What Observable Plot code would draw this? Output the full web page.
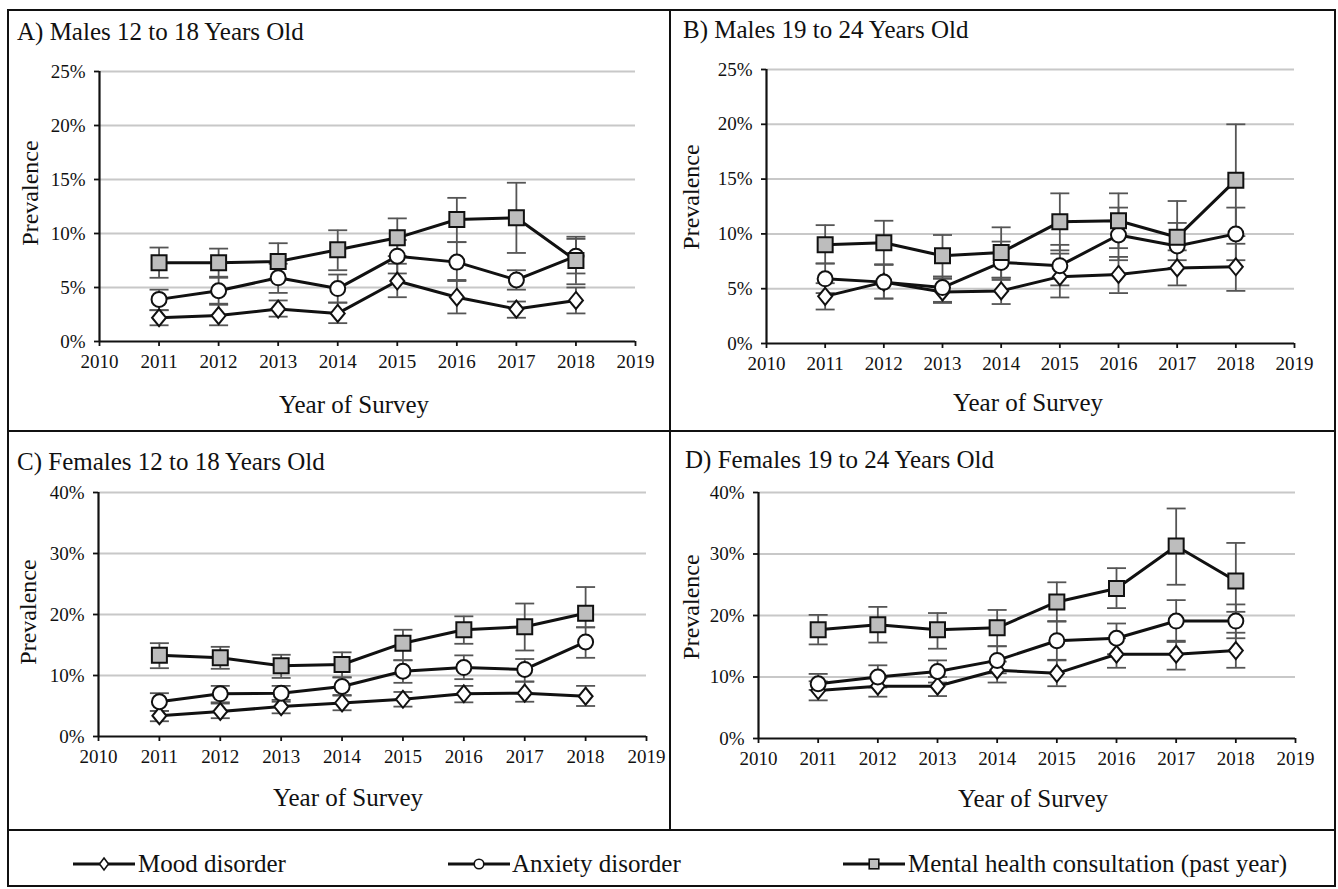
<!DOCTYPE html>
<html><head><meta charset="utf-8">
<script src="https://cdn.jsdelivr.net/npm/d3@7"></script>
<script src="https://cdn.jsdelivr.net/npm/@observablehq/plot@0.6"></script>
<style>
body{margin:0;background:#fff;}
#root{position:relative;width:1338px;height:889px;font-family:'Liberation Serif','DejaVu Serif','Noto Serif',serif;color:#111;overflow:hidden;background:#fff;}
#root svg text{font-family:'Liberation Serif','DejaVu Serif','Noto Serif',serif;}
.abs{position:absolute;}
.title{font-size:25px;white-space:nowrap;transform:translateY(-50%);}
.ctr{transform:translate(-50%,-50%);white-space:nowrap;}
.ylab{font-size:24px;white-space:nowrap;transform:translate(-50%,-50%) rotate(-90deg);}
.xlab{font-size:25px;}
.leg{font-size:25px;white-space:nowrap;transform:translateY(-50%);}
.line{background:#111;}
</style></head><body><div id="root"></div>
<script>
// ---------- data ----------
const years = [2011, 2012, 2013, 2014, 2015, 2016, 2017, 2018];
const xTicks = [2010, 2011, 2012, 2013, 2014, 2015, 2016, 2017, 2018, 2019];
const seriesNames = ["Mood disorder", "Anxiety disorder", "Mental health consultation (past year)"];
const panelTitles = ["A) Males 12 to 18 Years Old", "B) Males 19 to 24 Years Old", "C) Females 12 to 18 Years Old", "D) Females 19 to 24 Years Old"];
const yTicksMales = [0, 5, 10, 15, 20, 25];
const yTicksFemales = [0, 10, 20, 30, 40];

// Panel A
const moodA    = [2.2, 2.4, 3.0, 2.6, 5.6, 4.1, 3.0, 3.8];
const moodA_lo = [1.5, 1.5, 2.3, 1.7, 4.1, 2.6, 2.2, 2.6];
const moodA_hi = [2.9, 3.4, 3.8, 3.6, 7.2, 5.6, 3.7, 5.0];
const anxA     = [3.9, 4.7, 5.9, 4.9, 7.9, 7.35, 5.7, 7.9];
const anxA_lo  = [2.9, 3.5, 4.5, 3.6, 6.3, 5.7, 4.8, 6.3];
const anxA_hi  = [4.8, 6.0, 7.2, 6.2, 9.4, 9.2, 6.6, 9.5];
const mentA    = [7.3, 7.3, 7.4, 8.5, 9.6, 11.3, 11.45, 7.5];
const mentA_lo = [5.9, 5.9, 5.8, 6.6, 7.9, 9.2, 8.2, 5.3];
const mentA_hi = [8.7, 8.6, 9.1, 10.3, 11.4, 13.3, 14.7, 9.7];
// Panel B
const moodB    = [4.3, 5.6, 4.7, 4.8, 6.1, 6.3, 6.9, 7.0];
const moodB_lo = [3.1, 4.1, 3.7, 3.6, 4.2, 4.6, 5.3, 4.8];
const moodB_hi = [5.5, 7.2, 5.9, 6.0, 8.2, 7.9, 8.5, 9.1];
const anxB     = [5.9, 5.6, 5.1, 7.4, 7.1, 9.9, 8.9, 10.0];
const anxB_lo  = [4.6, 4.1, 3.8, 5.8, 5.3, 7.6, 6.9, 7.6];
const anxB_hi  = [7.3, 7.2, 6.1, 9.3, 9.0, 12.4, 11.0, 12.4];
const mentB    = [9.0, 9.2, 8.0, 8.3, 11.1, 11.2, 9.7, 14.9];
const mentB_lo = [7.3, 7.2, 6.1, 6.0, 8.5, 8.7, 7.6, 9.8];
const mentB_hi = [10.8, 11.2, 9.9, 10.6, 13.7, 13.7, 13.0, 20.0];
// Panel C
const moodC    = [3.4, 4.1, 4.9, 5.5, 6.1, 7.0, 7.1, 6.6];
const moodC_lo = [2.5, 3.0, 3.8, 4.3, 4.9, 5.6, 5.7, 5.0];
const moodC_hi = [4.2, 5.4, 6.0, 6.8, 7.3, 8.3, 9.0, 8.3];
const anxC     = [5.7, 7.0, 7.1, 8.2, 10.7, 11.3, 11.0, 15.5];
const anxC_lo  = [4.2, 5.6, 5.7, 6.7, 8.8, 9.4, 9.0, 12.9];
const anxC_hi  = [7.1, 8.3, 8.3, 9.7, 12.5, 13.3, 12.7, 17.9];
const mentC    = [13.3, 12.9, 11.6, 11.8, 15.3, 17.5, 18.0, 20.2];
const mentC_lo = [11.2, 11.1, 9.6, 9.7, 12.5, 15.2, 14.1, 17.9];
const mentC_hi = [15.3, 14.7, 13.4, 13.8, 17.5, 19.7, 21.8, 24.5];
// Panel D
const moodD    = [7.8, 8.5, 8.5, 11.1, 10.6, 13.7, 13.7, 14.3];
const moodD_lo = [6.2, 6.8, 6.9, 9.1, 8.5, 11.5, 11.2, 11.5];
const moodD_hi = [9.3, 9.8, 10.0, 12.5, 12.8, 16.3, 15.7, 17.2];
const anxD     = [8.9, 10.0, 10.9, 12.7, 15.9, 16.3, 19.1, 19.1];
const anxD_lo  = [7.9, 8.3, 9.1, 10.6, 12.7, 13.7, 15.9, 16.3];
const anxD_hi  = [10.5, 11.9, 12.7, 15.0, 19.1, 18.7, 22.5, 21.8];
const mentD    = [17.7, 18.5, 17.7, 18.0, 22.2, 24.4, 31.3, 25.6];
const mentD_lo = [15.3, 15.6, 14.6, 15.0, 19.0, 21.2, 25.0, 20.6];
const mentD_hi = [20.1, 21.4, 20.4, 20.9, 25.4, 27.7, 37.4, 31.8];

// ---------- symbols ----------
const capSym = {draw(c) { c.moveTo(-9.5, 0); c.lineTo(9.5, 0); }};
const diamondSym = {draw(c) { c.moveTo(0, -8.5); c.lineTo(7, 0); c.lineTo(0, 8.5); c.lineTo(-7, 0); c.closePath(); }};
const squareSym = {draw(c) { c.rect(-7.5, -7.5, 15, 15); }};

const FONT = "'Liberation Serif', 'DejaVu Serif', 'Noto Serif', serif";

function rowsFor(sets) {
  const rows = [];
  sets.forEach(([v, lo, hi], s) => {
    years.forEach((year, i) => rows.push({year, series: seriesNames[s], s, value: v[i], lo: lo[i], hi: hi[i]}));
  });
  return rows;
}

function panel(cfg) {
  const rows = rowsFor(cfg.sets);
  return Plot.plot({
    width: cfg.w, height: cfg.h,
    marginLeft: cfg.ml, marginRight: cfg.mr, marginTop: cfg.mt, marginBottom: cfg.mb,
    x: {domain: [2010, 2019]},
    y: {domain: [0, cfg.yTicks[cfg.yTicks.length - 1]]},
    style: {fontFamily: FONT, fontSize: "19px", color: "#111", background: "transparent", overflow: "visible"},
    marks: [
      Plot.ruleY(cfg.yTicks.filter(t => t > 0), {stroke: "#c8c8c8", strokeWidth: 2}),
      Plot.axisX({ticks: xTicks, tickFormat: d => String(d), tickSize: 5, tickPadding: 8, label: null, stroke: "#111", strokeWidth: 1.8, fontFamily: FONT}),
      Plot.axisY({ticks: cfg.yTicks, tickFormat: d => d + "%", tickSize: 5, tickPadding: 9, label: null, stroke: "#111", strokeWidth: 1.8, fontFamily: FONT}),
      Plot.ruleY([0], {stroke: "#111", strokeWidth: 2.2}),
      Plot.ruleX([2010], {stroke: "#111", strokeWidth: 2.2}),
      Plot.ruleX(rows, {x: "year", y1: "lo", y2: "hi", stroke: "#555", strokeWidth: 1.8}),
      Plot.dot(rows, {x: "year", y: "hi", symbol: capSym, fill: "none", stroke: "#555", strokeWidth: 1.8}),
      Plot.dot(rows, {x: "year", y: "lo", symbol: capSym, fill: "none", stroke: "#555", strokeWidth: 1.8}),
      Plot.line(rows, {x: "year", y: "value", z: "series", stroke: "#111", strokeWidth: 3}),
      Plot.dot(rows.filter(d => d.s === 0), {x: "year", y: "value", symbol: diamondSym, fill: "white", stroke: "#111", strokeWidth: 2}),
      Plot.dot(rows.filter(d => d.s === 1), {x: "year", y: "value", symbol: "circle", r: 7.5, fill: "white", stroke: "#111", strokeWidth: 2}),
      Plot.dot(rows.filter(d => d.s === 2), {x: "year", y: "value", symbol: squareSym, fill: "#bdbdbd", stroke: "#111", strokeWidth: 2})
    ]
  });
}

const root = document.getElementById("root");
function addDiv(cls, style, text) {
  const d = document.createElement("div");
  d.className = "abs " + (cls || "");
  d.setAttribute("style", style);
  if (text != null) d.textContent = text;
  root.appendChild(d);
  return d;
}

const panels = [
  {left: 8, top: 10, w: 660, h: 420, ml: 91, mr: 33, mt: 61, mb: 89, yTicks: yTicksMales,
   sets: [[moodA, moodA_lo, moodA_hi], [anxA, anxA_lo, anxA_hi], [mentA, mentA_lo, mentA_hi]],
   title: [17, 32], ylab: [30, 193], xlab: [354, 405]},
  {left: 672, top: 10, w: 662, h: 420, ml: 94, mr: 40, mt: 59, mb: 87, yTicks: yTicksMales,
   sets: [[moodB, moodB_lo, moodB_hi], [anxB, anxB_lo, anxB_hi], [mentB, mentB_lo, mentB_hi]],
   title: [683, 30], ylab: [691, 197], xlab: [1028, 403]},
  {left: 8, top: 433, w: 660, h: 396, ml: 90, mr: 22, mt: 59, mb: 93, yTicks: yTicksFemales,
   sets: [[moodC, moodC_lo, moodC_hi], [anxC, anxC_lo, anxC_hi], [mentC, mentC_lo, mentC_hi]],
   title: [17, 462], ylab: [28, 612], xlab: [348, 798]},
  {left: 672, top: 433, w: 662, h: 396, ml: 86, mr: 39, mt: 59, mb: 91, yTicks: yTicksFemales,
   sets: [[moodD, moodD_lo, moodD_hi], [anxD, anxD_lo, anxD_hi], [mentD, mentD_lo, mentD_hi]],
   title: [685, 460], ylab: [691, 607], xlab: [1033, 799]}
];

panels.forEach((p, i) => {
  const holder = addDiv("", `left:${p.left}px;top:${p.top}px;width:${p.w}px;height:${p.h}px;`);
  holder.appendChild(panel(p));
  addDiv("title", `left:${p.title[0]}px;top:${p.title[1]}px;`, panelTitles[i]);
  addDiv("ylab", `left:${p.ylab[0]}px;top:${p.ylab[1]}px;`, "Prevalence");
  addDiv("ctr xlab", `left:${p.xlab[0]}px;top:${p.xlab[1]}px;`, "Year of Survey");
});

// frame lines
addDiv("", "left:7px;top:9px;width:1329px;height:878px;border:2px solid #111;box-sizing:border-box;");
addDiv("line", "left:7px;top:430px;width:1329px;height:2px;");
addDiv("line", "left:669px;top:9px;width:2px;height:822px;");
addDiv("line", "left:7px;top:829px;width:1329px;height:2px;");

// legend
const legY = 864;
const legX = [[73, 138], [448, 512], [843, 908]];
const legSym = [
  '<polygon points="31,4 35.5,10 31,16 26.5,10" fill="white" stroke="#111" stroke-width="1.6"/>',
  '<circle cx="31" cy="10" r="4.8" fill="white" stroke="#111" stroke-width="1.6"/>',
  '<rect x="26.2" y="5.2" width="9.6" height="9.6" fill="#bdbdbd" stroke="#111" stroke-width="1.6"/>'
];
seriesNames.forEach((name, i) => {
  const s = addDiv("", `left:${legX[i][0]}px;top:${legY - 10}px;width:62px;height:20px;`);
  s.innerHTML = `<svg width="62" height="20" viewBox="0 0 62 20"><line x1="0" y1="10" x2="62" y2="10" stroke="#111" stroke-width="3.2"/>${legSym[i]}</svg>`;
  addDiv("leg", `left:${legX[i][1]}px;top:${legY}px;`, name);
});
</script></body></html>
